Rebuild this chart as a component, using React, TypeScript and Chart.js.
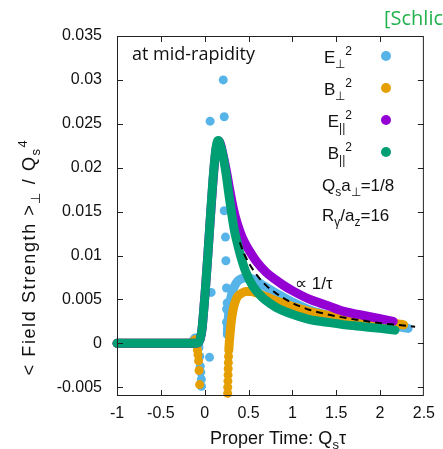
import React, { useEffect, useRef } from 'react';
import { Chart, registerables } from 'chart.js';

Chart.register(...registerables);

const W = 443;
const H = 449;

// ---------- axes ----------
const xTicks = [-1, -0.5, 0, 0.5, 1, 1.5, 2, 2.5];
const xTickLabels = ['-1', '-0.5', '0', '0.5', '1', '1.5', '2', '2.5'];
const yTicks = [-0.005, 0, 0.005, 0.01, 0.015, 0.02, 0.025, 0.03, 0.035];
const yTickLabels = ['-0.005', '0', '0.005', '0.01', '0.015', '0.02', '0.025', '0.03', '0.035'];

// ---------- B_parallel^2 (green) ----------
const greenTau = [-1, -0.6, -0.2, -0.1, -0.07, -0.055, -0.045, -0.035, -0.025, -0.015, -0.005, 0.005, 0.015, 0.025, 0.035, 0.045, 0.055, 0.065, 0.075, 0.085, 0.095, 0.105, 0.115, 0.125, 0.135, 0.145, 0.155, 0.165, 0.175, 0.19, 0.21, 0.23, 0.25, 0.27, 0.29, 0.31, 0.34, 0.38, 0.42, 0.47, 0.55, 0.65, 0.75, 0.85, 1.0, 1.2, 1.4, 1.6, 1.8, 2.0, 2.17];
const greenVal = [0, 0, 0, 0, 0.0001, 0.0004, 0.0008, 0.0013, 0.0022, 0.0033, 0.0045, 0.0057, 0.0071, 0.0085, 0.0099, 0.0114, 0.0129, 0.0144, 0.0159, 0.0173, 0.0187, 0.0199, 0.021, 0.0219, 0.0226, 0.023, 0.0231, 0.023, 0.0227, 0.0222, 0.0213, 0.0202, 0.0189, 0.0174, 0.016, 0.0146, 0.0128, 0.0111, 0.0096, 0.0081, 0.0065, 0.0053, 0.0045, 0.0039, 0.0033, 0.0027, 0.0024, 0.0021, 0.0019, 0.0017, 0.0015];

// ---------- E_parallel^2 (purple) ----------
const purpleTau = [-1, -0.6, -0.2, -0.1, -0.07, -0.05, -0.03, -0.01, 0.01, 0.03, 0.05, 0.07, 0.09, 0.11, 0.13, 0.15, 0.165, 0.18, 0.2, 0.22, 0.25, 0.28, 0.31, 0.35, 0.4, 0.45, 0.5, 0.6, 0.7, 0.8, 0.9, 1.0, 1.2, 1.4, 1.6, 1.8, 2.0, 2.15];
const purpleVal = [0, 0, 0, 0, 0.0001, 0.0005, 0.0016, 0.0039, 0.0064, 0.0092, 0.0121, 0.015, 0.0178, 0.0203, 0.0221, 0.0229, 0.023, 0.0227, 0.0219, 0.021, 0.0195, 0.0178, 0.0162, 0.0144, 0.0128, 0.0116, 0.0107, 0.0092, 0.0081, 0.0073, 0.0066, 0.006, 0.005, 0.0043, 0.0036, 0.0032, 0.0028, 0.0025];

// ---------- B_perp^2 (orange) ----------
const orangeLeftTau = [-1, -0.6, -0.16, -0.13, -0.11];
const orangeLeftVal = [0, 0, 0, 0.0002, 0.0004];
const orangeDipTau = [-0.1, -0.09, -0.082, -0.076, -0.07, -0.064, -0.058, 0.262, 0.263, 0.265, 0.267, 0.268, 0.27, 0.272];
const orangeDipVal = [0.0002, -0.0003, -0.0008, -0.0013, -0.002, -0.0031, -0.0047, -0.0057, -0.005, -0.0043, -0.0036, -0.0029, -0.0022, -0.0015];
const orangeTau = [0.275, 0.28, 0.287, 0.296, 0.305, 0.315, 0.33, 0.35, 0.38, 0.42, 0.47, 0.53, 0.6, 0.7, 0.85, 1.0, 1.2, 1.4, 1.6, 1.8, 2.0, 2.15, 2.27];
const orangeVal = [-0.0008, 0.0, 0.0008, 0.0018, 0.0026, 0.0033, 0.0041, 0.0048, 0.0054, 0.0057, 0.0059, 0.0059, 0.0057, 0.0053, 0.0047, 0.0042, 0.0036, 0.0032, 0.0028, 0.0026, 0.0024, 0.0023, 0.0021];

// ---------- E_perp^2 (blue) ----------
const blueLeftTau = [-1, -0.6, -0.16, -0.13, -0.11, -0.09, -0.075, -0.065];
const blueLeftVal = [0, 0, 0, 0.0003, 0.0006, 0.0006, 0.0002, -0.0005];
const blueDotTau = [-0.055, -0.05, -0.045, -0.038, -0.036, 0.055, 0.062, 0.074, 0.212, 0.223, 0.223, 0.237, 0.242, 0.249, 0.256, 0.249, 0.249, 0.26];
const blueDotVal = [-0.0015, -0.0026, -0.0033, -0.0041, -0.0049, -0.0016, 0.0253, 0.0058, 0.03, 0.0258, 0.0151, 0.0121, 0.0094, 0.0063, 0.0046, 0.0039, 0.0024, 0.0016];
const blueTau = [0.258, 0.265, 0.275, 0.29, 0.31, 0.34, 0.38, 0.43, 0.48, 0.55, 0.65, 0.75, 0.85, 1.0, 1.2, 1.4, 1.6, 1.8, 2.0, 2.2, 2.32];
const blueVal = [0.001, 0.0022, 0.0035, 0.0047, 0.0057, 0.0065, 0.0071, 0.0074, 0.0075, 0.0073, 0.0067, 0.0061, 0.0055, 0.0047, 0.0038, 0.0032, 0.0027, 0.0024, 0.0021, 0.0019, 0.0017];

// ---------- 1/tau guide (dashed) ----------
const guideTau = [0.4, 0.45, 0.5, 0.6, 0.7, 0.8, 1.0, 1.2, 1.4, 1.6, 1.8, 2.0, 2.2, 2.4];
const guideVal = [0.0115, 0.0102, 0.0092, 0.0077, 0.0066, 0.0058, 0.0046, 0.0038, 0.0033, 0.0029, 0.0026, 0.0023, 0.0021, 0.0019];

const BLUE = '#56b4e9';
const ORANGE = '#e69f00';
const PURPLE = '#9400d3';
const GREEN = '#009e73';

const SANS = "'Liberation Sans', Arial, sans-serif";
const OPEN = "'Open Sans', 'Noto Sans', sans-serif";

const zip = (t: number[], v: number[]) => t.map((x, i) => ({ x, y: v[i] }));

type Part = { t: string; s?: 'sub' | 'sup'; color?: string };

function drawRich(ctx: CanvasRenderingContext2D, parts: Part[], x: number, y: number, align: 'left' | 'center' | 'right', size: number, family: string, color: string) {
  const small = Math.round(size * 0.72);
  const fontOf = (p: Part) => `${p.s ? small : size}px ${family}`;
  const widths = parts.map((p) => {
    ctx.font = fontOf(p);
    return ctx.measureText(p.t).width;
  });
  const total = widths.reduce((a, b) => a + b, 0);
  let cx = align === 'left' ? x : align === 'center' ? x - total / 2 : x - total;
  ctx.textAlign = 'left';
  ctx.textBaseline = 'alphabetic';
  parts.forEach((p, i) => {
    ctx.font = fontOf(p);
    ctx.fillStyle = p.color || color;
    const dy = p.s === 'sub' ? size * 0.3 : p.s === 'sup' ? -size * 0.45 : 0;
    ctx.fillText(p.t, cx, y + dy);
    cx += widths[i];
  });
}

const decorPlugin = {
  id: 'decor',
  afterDatasetsDraw(chart: any) {
    const ctx: CanvasRenderingContext2D = chart.ctx;
    const { left, right, top, bottom } = chart.chartArea;
    const xs = chart.scales.x;
    const ys = chart.scales.y;
    ctx.save();
    // frame
    ctx.strokeStyle = '#222';
    ctx.lineWidth = 1;
    ctx.strokeRect(left + 0.5, top + 0.5, right - left - 1, bottom - top - 1);
    // inward ticks on all sides
    const TL = 6;
    ctx.beginPath();
    xTicks.forEach((v) => {
      const px = Math.round(xs.getPixelForValue(v)) + 0.5;
      if (px <= left + 1 || px >= right - 1) return;
      ctx.moveTo(px, bottom);
      ctx.lineTo(px, bottom - TL);
      ctx.moveTo(px, top);
      ctx.lineTo(px, top + TL);
    });
    yTicks.forEach((v) => {
      const py = Math.round(ys.getPixelForValue(v)) + 0.5;
      if (py <= top + 1 || py >= bottom - 1) return;
      ctx.moveTo(left, py);
      ctx.lineTo(left + TL, py);
      ctx.moveTo(right, py);
      ctx.lineTo(right - TL, py);
    });
    ctx.stroke();

    // legend
    const legend: { parts: Part[]; color: string; y: number }[] = [
      { parts: [{ t: 'E' }, { t: '⊥', s: 'sub' }, { t: '2', s: 'sup' }], color: BLUE, y: 57 },
      { parts: [{ t: 'B' }, { t: '⊥', s: 'sub' }, { t: '2', s: 'sup' }], color: ORANGE, y: 89 },
      { parts: [{ t: 'E' }, { t: '||', s: 'sub' }, { t: '2', s: 'sup' }], color: PURPLE, y: 121 },
      { parts: [{ t: 'B' }, { t: '||', s: 'sub' }, { t: '2', s: 'sup' }], color: GREEN, y: 153 },
    ];
    legend.forEach((l) => {
      drawRich(ctx, l.parts, 352, l.y + 6, 'right', 17, SANS, '#111');
      ctx.beginPath();
      ctx.fillStyle = l.color;
      ctx.arc(386, l.y - 1, 5, 0, Math.PI * 2);
      ctx.fill();
    });
    drawRich(ctx, [{ t: 'Q' }, { t: 's', s: 'sub' }, { t: 'a' }, { t: '⊥', s: 'sub' }, { t: '=1/8' }], 322, 191, 'left', 17, SANS, '#111');
    drawRich(ctx, [{ t: 'R' }, { t: 'γ', s: 'sub' }, { t: '/a' }, { t: 'z', s: 'sub' }, { t: '=16' }], 322, 221, 'left', 17, SANS, '#111');

    // annotations
    ctx.fillStyle = '#111';
    ctx.font = `18px ${OPEN}`;
    ctx.textAlign = 'left';
    ctx.textBaseline = 'alphabetic';
    ctx.fillText('at mid-rapidity', 132, 60);
    drawRich(ctx, [{ t: '∝ 1/τ' }], 295, 289, 'left', 17, SANS, '#111');
    ctx.restore();
  },
  afterDraw(chart: any) {
    const ctx: CanvasRenderingContext2D = chart.ctx;
    ctx.save();
    // source tag
    ctx.fillStyle = '#22b14c';
    ctx.font = `20px ${OPEN}`;
    ctx.textAlign = 'left';
    ctx.textBaseline = 'alphabetic';
    ctx.fillText('[Schlichting', 384, 25);
    // x title
    drawRich(ctx, [{ t: 'Proper Time: Q' }, { t: 's', s: 'sub' }, { t: 'τ' }], 278, 444, 'center', 18, SANS, '#111');
    // y title (slightly spaced like the reference)
    ctx.translate(35, 257);
    ctx.rotate(-Math.PI / 2);
    (ctx as any).letterSpacing = '1.6px';
    drawRich(ctx, [{ t: '< Field Strength >' }, { t: '⊥', s: 'sub' }, { t: ' / Q' }, { t: 's', s: 'sub' }, { t: '4', s: 'sup' }], 0, 0, 'center', 18, SANS, '#111');
    ctx.restore();
  },
};

export default function App() {
  const ref = useRef<HTMLCanvasElement | null>(null);
  useEffect(() => {
    if (!ref.current) return;
    const curve = (label: string, data: any[], color: string, order: number) => ({
      label,
      data,
      showLine: true,
      borderColor: color,
      backgroundColor: color,
      borderWidth: 9,
      pointRadius: 0,
      borderCapStyle: 'round',
      borderJoinStyle: 'round',
      cubicInterpolationMode: 'monotone',
      clip: false,
      order,
    });
    const dots = (label: string, data: any[], color: string, order: number) => ({
      label,
      data,
      showLine: false,
      backgroundColor: color,
      borderColor: color,
      borderWidth: 0,
      pointRadius: 4.5,
      clip: false,
      order,
    });
    const chart = new Chart(ref.current, {
      type: 'scatter',
      data: {
        datasets: [
          {
            label: '1/tau',
            data: zip(guideTau, guideVal),
            showLine: true,
            borderColor: '#000',
            borderWidth: 2,
            borderDash: [7, 5],
            pointRadius: 0,
            cubicInterpolationMode: 'monotone',
            clip: false,
            order: 0,
          } as any,
          curve('B_par^2', zip(greenTau, greenVal), GREEN, 1),
          curve('E_par^2', zip(purpleTau, purpleVal), PURPLE, 2),
          curve('B_perp^2', zip(orangeTau, orangeVal), ORANGE, 3),
          curve('B_perp^2 left', zip(orangeLeftTau, orangeLeftVal), ORANGE, 3),
          dots('B_perp^2 dips', zip(orangeDipTau, orangeDipVal), ORANGE, 3),
          curve('E_perp^2', zip(blueTau, blueVal), BLUE, 4),
          curve('E_perp^2 left', zip(blueLeftTau, blueLeftVal), BLUE, 4),
          dots('E_perp^2 spikes', zip(blueDotTau, blueDotVal), BLUE, 4),
        ] as any,
      },
      options: {
        responsive: false,
        animation: false,
        devicePixelRatio: 1,
        layout: { padding: { top: 36, right: 14, left: 0, bottom: 0 } },
        plugins: { legend: { display: false }, tooltip: { enabled: false } },
        scales: {
          x: {
            type: 'linear',
            min: -1,
            max: 2.5,
            afterBuildTicks: (s: any) => {
              s.ticks = xTicks.map((v) => ({ value: v }));
            },
            afterFit: (s: any) => {
              s.height = 53;
            },
            grid: { display: false, drawTicks: false },
            border: { display: false },
            ticks: {
              autoSkip: false,
              maxRotation: 0,
              padding: 8,
              color: '#111',
              font: { family: SANS, size: 16 },
              callback: (_v: any, i: number) => xTickLabels[i],
            },
          },
          y: {
            type: 'linear',
            min: -0.006,
            max: 0.035,
            afterBuildTicks: (s: any) => {
              s.ticks = yTicks.map((v) => ({ value: v }));
            },
            afterFit: (s: any) => {
              s.width = 117;
            },
            grid: { display: false, drawTicks: false },
            border: { display: false },
            ticks: {
              autoSkip: false,
              padding: 15,
              color: '#111',
              font: { family: SANS, size: 16 },
              callback: (_v: any, i: number) => yTickLabels[i],
            },
          },
        },
      } as any,
      plugins: [decorPlugin],
    });
    return () => chart.destroy();
  }, []);
  return (
    <div style={{ position: 'fixed', left: 0, top: 0, width: W, height: H, background: '#fff', overflow: 'hidden' }}>
      <canvas ref={ref} width={W} height={H} style={{ display: 'block', width: W, height: H }} />
    </div>
  );
}
